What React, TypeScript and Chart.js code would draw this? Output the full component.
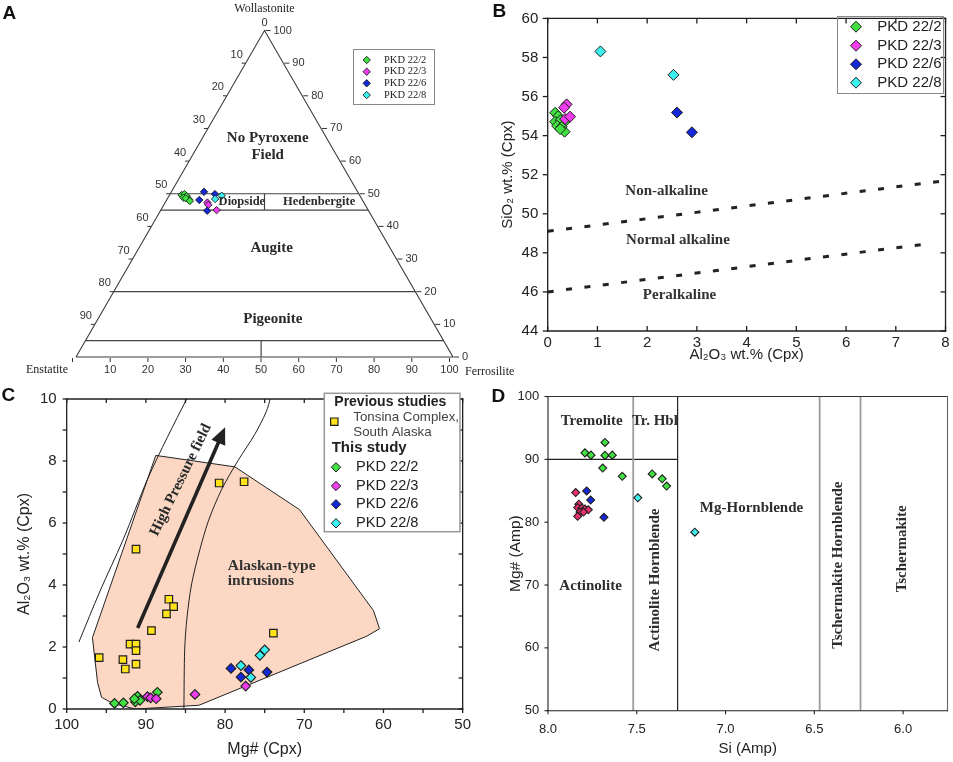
import React, { useEffect, useRef } from "react";
import { Chart, registerables } from "chart.js";

Chart.register(...registerables);

const SANS = '"Liberation Sans", Arial, Helvetica, sans-serif';
const SERIF = '"Liberation Serif", "Times New Roman", serif';
const NARROW = '"Liberation Sans Narrow", "Liberation Sans", Arial, sans-serif';
const INK = "#1e1e1e";

// ---------------- shared ----------------
const SAMPLE_NAMES = ["PKD 22/2", "PKD 22/3", "PKD 22/6", "PKD 22/8"];
const SAMPLE_COLORS = ["#3fe03f", "#ee3cee", "#1428d8", "#3cf0f0"];
const D_COLORS = ["#3fe03f", "#e8306e", "#1428d8", "#3cf0f0"];

// ---------------- Panel A: Wo-En-Fs ternary (Wo, Fs in %; En = 100 - Wo - Fs) ----------------
const A_PKD222_WO = [49.6, 49.9, 49.3, 48.8, 48.3, 48.6, 47.8];
const A_PKD222_FS = [3.2, 3.8, 4.7, 4.1, 5.8, 4.8, 6.3];
const A_PKD223_WO = [47.3, 46.6, 45.0];
const A_PKD223_FS = [11.2, 11.8, 14.8];
const A_PKD226_WO = [50.6, 49.9, 48.1, 44.8];
const A_PKD226_FS = [8.65, 11.9, 8.65, 12.4];
const A_PKD228_WO = [49.4, 48.4];
const A_PKD228_FS = [13.95, 12.7];
const A_FIELD_WO = [50, 45, 20, 5];
const A_PIGEONITE_SPLIT_FS = 49.1;
const A_TICKS = [10, 20, 30, 40, 50, 60, 70, 80, 90];

// ---------------- Panel B: SiO2 vs Al2O3 (Cpx) ----------------
const B_PKD222_AL = [0.15, 0.21, 0.15, 0.26, 0.19, 0.28, 0.34, 0.25, 0.38];
const B_PKD222_SI = [55.17, 55.0, 54.71, 54.79, 54.5, 54.45, 54.2, 54.34, 54.8];
const B_PKD223_AL = [0.38, 0.33, 0.35, 0.45];
const B_PKD223_SI = [55.6, 55.43, 54.85, 54.97];
const B_PKD226_AL = [2.6, 2.9];
const B_PKD226_SI = [55.18, 54.17];
const B_PKD228_AL = [1.06, 2.53];
const B_PKD228_SI = [58.31, 57.11];
const B_UPPER_X = [0, 8];
const B_UPPER_Y = [49.1, 51.7];
const B_LOWER_X = [0, 7.75];
const B_LOWER_Y = [46.0, 48.5];
const B_X_TICKS = [0, 1, 2, 3, 4, 5, 6, 7, 8];
const B_Y_TICKS = [44, 46, 48, 50, 52, 54, 56, 58, 60];

// ---------------- Panel C: Al2O3 vs Mg# (Cpx) ----------------
const C_TONSINA_MG = [80.75, 77.6, 91.25, 87.1, 86.5, 87.4, 89.3, 92.0, 91.25, 91.25, 92.9, 92.6, 91.25, 95.9, 73.9];
const C_TONSINA_AL = [7.29, 7.33, 5.16, 3.54, 3.3, 3.07, 2.53, 2.09, 2.09, 1.88, 1.59, 1.29, 1.45, 1.66, 2.45];
const C_PKD222_MG = [93.96, 92.84, 91.34, 91.05, 90.75, 88.55, 91.46];
const C_PKD222_AL = [0.18, 0.2, 0.23, 0.41, 0.28, 0.54, 0.33];
const C_PKD223_MG = [89.8, 89.4, 88.7, 83.8, 77.4];
const C_PKD223_AL = [0.4, 0.36, 0.33, 0.47, 0.74];
const C_PKD226_MG = [79.25, 78.0, 77.0, 74.7];
const C_PKD226_AL = [1.31, 1.03, 1.26, 1.19];
const C_PKD228_MG = [78.0, 76.75, 75.6, 75.0];
const C_PKD228_AL = [1.4, 1.02, 1.73, 1.91];
const C_FIELD_MG = [88.75, 78.75, 70.6, 61.25, 60.5, 62.1, 83.3, 91.3, 94.2, 95.6, 96.1, 96.75, 88.75];
const C_FIELD_AL = [8.18, 7.81, 6.43, 3.17, 2.59, 2.35, 0.12, 0.0, 0.18, 0.38, 0.85, 2.3, 8.18];
const C_HP_LEFT_MG = [98.46, 95.8, 92.9, 89.8, 87.3, 84.75];
const C_HP_LEFT_AL = [2.16, 3.8, 5.45, 7.41, 8.76, 10.05];
const C_HP_RIGHT_MG = [85.2, 85.1, 84.8, 84.25, 83.3, 82.1, 80.4, 78.3, 76.25, 74.8, 74.25];
const C_HP_RIGHT_AL = [0.0, 1.93, 2.97, 4.0, 5.03, 6.07, 7.1, 8.04, 8.86, 9.59, 10.05];
const C_ARROW_MG = [91.04, 80.0];
const C_ARROW_AL = [2.61, 9.09];
const C_X_TICKS = [50, 55, 60, 65, 70, 75, 80, 85, 90, 95, 100];
const C_Y_TICKS = [0, 1, 2, 3, 4, 5, 6, 7, 8, 9, 10];

// ---------------- Panel D: Mg# vs Si (Amp) ----------------
const D_PKD222_SI = [7.792, 7.758, 7.679, 7.679, 7.638, 7.692, 7.582, 7.413, 7.357, 7.332];
const D_PKD222_MG = [91.03, 90.67, 92.69, 90.63, 90.67, 88.61, 87.3, 87.67, 86.9, 85.75];
const D_PKD223_SI = [7.844, 7.826, 7.833, 7.81, 7.792, 7.773, 7.82, 7.8, 7.833];
const D_PKD223_MG = [84.72, 82.86, 82.33, 82.23, 82.08, 81.97, 81.61, 81.61, 80.93];
const D_PKD226_SI = [7.782, 7.76, 7.685];
const D_PKD226_MG = [84.97, 83.52, 80.77];
const D_PKD228_SI = [7.494, 7.173];
const D_PKD228_MG = [83.88, 78.4];
const D_BOUNDARY_SI = [7.52, 7.27, 6.47, 6.24];
const D_TREMOLITE_MG = 90;
const D_X_TICKS = [6.0, 6.5, 7.0, 7.5, 8.0];
const D_Y_TICKS = [50, 60, 70, 80, 90, 100];

// ---------------- helpers ----------------
type Pt = { x: number; y: number };
const zip = (xs: number[], ys: number[]): Pt[] => xs.map((v, i) => ({ x: v, y: ys[i] }));
const SQ3 = Math.sqrt(3) / 2;
const tern = (wo: number, fs: number): Pt => ({ x: fs + wo / 2, y: wo * SQ3 });

function seg(ctx: CanvasRenderingContext2D, x1: number, y1: number, x2: number, y2: number) {
  ctx.beginPath();
  ctx.moveTo(x1, y1);
  ctx.lineTo(x2, y2);
  ctx.stroke();
}

function label(
  ctx: CanvasRenderingContext2D,
  s: string,
  x: number,
  y: number,
  font: string,
  color = INK,
  align: CanvasTextAlign = "center",
  rot = 0
) {
  ctx.save();
  ctx.translate(x, y);
  if (rot) ctx.rotate((rot * Math.PI) / 180);
  ctx.font = font;
  ctx.fillStyle = color;
  ctx.textAlign = align;
  ctx.textBaseline = "middle";
  ctx.fillText(s, 0, 0);
  ctx.restore();
}

function diamond(ctx: CanvasRenderingContext2D, x: number, y: number, r: number, fill: string, lw = 1) {
  ctx.beginPath();
  ctx.moveTo(x, y - r);
  ctx.lineTo(x + r, y);
  ctx.lineTo(x, y + r);
  ctx.lineTo(x - r, y);
  ctx.closePath();
  ctx.fillStyle = fill;
  ctx.fill();
  ctx.strokeStyle = INK;
  ctx.lineWidth = lw;
  ctx.stroke();
}

function square(ctx: CanvasRenderingContext2D, x: number, y: number, h: number, fill: string, lw = 1.2) {
  ctx.beginPath();
  ctx.rect(x - h, y - h, 2 * h, 2 * h);
  ctx.fillStyle = fill;
  ctx.fill();
  ctx.strokeStyle = INK;
  ctx.lineWidth = lw;
  ctx.stroke();
}

function dataText(chart: any, s: string, xv: number, yv: number, font: string, color = "#2a2a2a", align: CanvasTextAlign = "center", rot = 0) {
  const px = chart.scales.x.getPixelForValue(xv);
  const py = chart.scales.y.getPixelForValue(yv);
  label(chart.ctx, s, px, py, font, color, align, rot);
}

function frame(
  chart: any,
  xt: number[],
  yt: number[],
  L: { b: number; t: number; l: number; r: number },
  lw: number,
  colors: { b?: string; t?: string; l?: string; r?: string } = {}
) {
  const { ctx, chartArea: a, scales } = chart;
  const sx = scales.x;
  const sy = scales.y;
  const c = { b: INK, t: INK, l: INK, r: INK, ...colors };
  ctx.save();
  ctx.lineWidth = lw;
  ctx.lineCap = "square";
  ctx.strokeStyle = c.t;
  seg(ctx, a.left, a.top, a.right, a.top);
  ctx.strokeStyle = c.r;
  seg(ctx, a.right, a.top, a.right, a.bottom);
  ctx.strokeStyle = c.b;
  seg(ctx, a.left, a.bottom, a.right, a.bottom);
  ctx.strokeStyle = c.l;
  seg(ctx, a.left, a.top, a.left, a.bottom);
  ctx.lineCap = "butt";
  ctx.lineWidth = Math.max(1, lw);
  for (const v of xt) {
    const p = sx.getPixelForValue(v);
    ctx.strokeStyle = c.b;
    if (L.b) seg(ctx, p, a.bottom, p, a.bottom + L.b);
    ctx.strokeStyle = c.t;
    if (L.t) seg(ctx, p, a.top, p, a.top - L.t);
  }
  for (const v of yt) {
    const p = sy.getPixelForValue(v);
    ctx.strokeStyle = c.l;
    if (L.l) seg(ctx, a.left, p, a.left - L.l, p);
    ctx.strokeStyle = c.r;
    if (L.r) seg(ctx, a.right, p, a.right + L.r, p);
  }
  ctx.restore();
}

const lineDs = (data: Pt[], color = INK, width = 1, extra: any = {}) => ({
  type: "line",
  data,
  borderColor: color,
  borderWidth: width,
  pointRadius: 0,
  pointHoverRadius: 0,
  showLine: true,
  fill: false,
  tension: 0,
  order: 20,
  ...extra,
});

const pointDs = (data: Pt[], color: string, style: string, radius: number, order: number, bw = 1) => ({
  type: "scatter",
  data,
  pointStyle: style,
  pointRadius: radius,
  pointHoverRadius: radius,
  backgroundColor: color,
  borderColor: INK,
  borderWidth: bw,
  showLine: false,
  order,
});

const baseOptions = (padding: any, scales: any) => ({
  animation: false,
  responsive: false,
  devicePixelRatio: 1,
  events: [],
  layout: { padding, autoPadding: false },
  plugins: { legend: { display: false }, tooltip: { enabled: false } },
  scales,
});

const hiddenGrid = { display: false, drawTicks: false };

// ---------------- Panel A ----------------
function buildA(): any {
  const series = [
    [A_PKD222_WO, A_PKD222_FS],
    [A_PKD223_WO, A_PKD223_FS],
    [A_PKD226_WO, A_PKD226_FS],
    [A_PKD228_WO, A_PKD228_FS],
  ];
  const datasets: any[] = series.map(([wo, fs], i) =>
    pointDs(wo.map((w, k) => tern(w, fs[k])), SAMPLE_COLORS[i], "rectRot", 3.7, 4 - i, 0.9)
  );
  const edge = "#3a3a3a";
  datasets.push(lineDs([tern(0, 0), tern(0, 100), tern(100, 0), tern(0, 0)], edge, 1.1));
  A_FIELD_WO.forEach((wo) => datasets.push(lineDs([tern(wo, 0), tern(wo, 100 - wo)], "#444", 1.2)));
  datasets.push(lineDs([tern(50, 25), tern(45, 27.5)], "#444", 1.2));
  datasets.push(lineDs([tern(5, A_PIGEONITE_SPLIT_FS - 2.5), tern(0, A_PIGEONITE_SPLIT_FS)], "#444", 1.2));

  const plugin = {
    id: "ternaryA",
    afterDatasetsDraw(chart: any) {
      const { ctx, scales } = chart;
      const P = (wo: number, fs: number) => {
        const t = tern(wo, fs);
        return [scales.x.getPixelForValue(t.x), scales.y.getPixelForValue(t.y)];
      };
      const tf = `11px ${SANS}`;
      const tc = "#333";
      ctx.save();
      ctx.strokeStyle = "#333";
      ctx.lineWidth = 1;
      // left edge (En)
      A_TICKS.forEach((v) => {
        const [px, py] = P(100 - v, 0);
        seg(ctx, px - 4, py, px, py);
        label(ctx, String(v), px - 9, py - 8.5, tf, tc);
      });
      const [ax, ay] = P(100, 0);
      label(ctx, "0", ax, ay - 8, tf, tc);
      // right edge (Wo)
      [0, ...A_TICKS, 100].forEach((v) => {
        const [px, py] = P(v, 100 - v);
        seg(ctx, px + 1, py, px + 6, py);
        label(ctx, String(v), px + 9, py, tf, tc, "left");
      });
      // bottom edge (Fs)
      [0, ...A_TICKS, 100].forEach((v) => {
        const [px0, py] = P(0, v);
        const px = px0 - 3.5;
        seg(ctx, px, py + 1, px, py + 5);
        if (v > 0) label(ctx, String(v), px, py + 13, tf, tc);
      });
      // end members
      const ef = `12px ${SERIF}`;
      label(ctx, "Wollastonite", ax, ay - 22, ef, "#222");
      const [lx, ly] = P(0, 0);
      label(ctx, "Enstatite", lx - 29, ly + 13, ef, "#222");
      const [rx, ry] = P(0, 100);
      label(ctx, "Ferrosilite", rx + 12, ry + 15, ef, "#222", "left");
      // field names
      const bf = `bold 15px ${SERIF}`;
      const sf = `bold 12.5px ${SERIF}`;
      const put = (s: string, X: number, Y: number, f: string) =>
        label(ctx, s, scales.x.getPixelForValue(X), scales.y.getPixelForValue(Y), f, "#2a2a2a");
      put("No Pyroxene", 50.85, 58.1, bf);
      put("Field", 50.85, 53.6, bf);
      put("Diopside", 44.0, 41.1, sf);
      put("Hedenbergite", 64.5, 41.1, sf);
      put("Augite", 51.9, 28.9, bf);
      put("Pigeonite", 52.2, 10.1, bf);
      // legend
      ctx.strokeStyle = "#888";
      ctx.lineWidth = 1;
      ctx.strokeRect(353.5, 49.5, 81, 55);
      [60, 71.7, 83.3, 95.1].forEach((yy, i) => {
        diamond(ctx, 366.7, yy, 3.7, SAMPLE_COLORS[i], 0.9);
        label(ctx, SAMPLE_NAMES[i], 384, yy, `10.5px ${SERIF}`, "#222", "left");
      });
      // panel letter
      label(ctx, "A", 2.5, 13.5, `bold 19px ${SANS}`, "#111", "left");
      ctx.restore();
    },
  };

  return {
    type: "scatter",
    data: { datasets },
    options: baseOptions(0, {
      x: { type: "linear", display: false, min: -76 / 3.77, max: -76 / 3.77 + 520 / 3.77 },
      y: { type: "linear", display: false, min: 357 / 3.77 - 380 / 3.77, max: 357 / 3.77 },
    }),
    plugins: [plugin],
  };
}

// ---------------- Panel B ----------------
function buildB(): any {
  const series = [
    [B_PKD222_AL, B_PKD222_SI],
    [B_PKD223_AL, B_PKD223_SI],
    [B_PKD226_AL, B_PKD226_SI],
    [B_PKD228_AL, B_PKD228_SI],
  ];
  const datasets: any[] = series.map(([xs, ys], i) => pointDs(zip(xs, ys), SAMPLE_COLORS[i], "rectRot", 5.5, 4 - i, 1));
  const dash = { borderDash: [6, 12.5], borderCapStyle: "butt" };
  datasets.push(lineDs(zip(B_UPPER_X, B_UPPER_Y), "#222", 3, dash));
  datasets.push(lineDs(zip(B_LOWER_X, B_LOWER_Y), "#222", 3, dash));

  const plugin = {
    id: "decoB",
    afterDatasetsDraw(chart: any) {
      const { ctx } = chart;
      frame(chart, B_X_TICKS, B_Y_TICKS, { b: -5, t: -5, l: 5, r: -5 }, 1.3);
      const f = `bold 15px ${SERIF}`;
      dataText(chart, "Non-alkaline", 2.39, 51.16, f, "#333");
      dataText(chart, "Normal alkaline", 2.62, 48.64, f, "#333");
      dataText(chart, "Peralkaline", 2.65, 45.85, f, "#333");
      ctx.save();
      ctx.strokeStyle = "#888";
      ctx.lineWidth = 1;
      ctx.strokeRect(367.5, 16.5, 106, 77);
      [26.7, 45.7, 64.3, 82.7].forEach((yy, i) => {
        diamond(ctx, 386, yy, 5.5, SAMPLE_COLORS[i], 1);
        label(ctx, SAMPLE_NAMES[i], 407.3, yy, `15px ${SANS}`, "#222", "left");
      });
      label(ctx, "B", 22.5, 12, `bold 19px ${SANS}`, "#111", "left");
      ctx.restore();
    },
  };

  return {
    type: "scatter",
    data: { datasets },
    options: baseOptions({ top: 10, right: 6.3, left: 0, bottom: 0 }, {
      x: {
        type: "linear",
        min: 0,
        max: 8,
        grid: hiddenGrid,
        border: { display: false },
        ticks: { stepSize: 1, font: { family: SANS, size: 15 }, color: "#222", padding: 3.3, maxRotation: 0, autoSkip: false },
        title: { display: true, text: "Al₂O₃ wt.% (Cpx)", font: { family: SANS, size: 15 }, color: "#222", padding: { top: 0, bottom: 16 } },
        afterFit: (s: any) => {
          s.height = 49;
        },
      },
      y: {
        type: "linear",
        min: 44,
        max: 60,
        grid: hiddenGrid,
        border: { display: false },
        ticks: { stepSize: 2, font: { family: SANS, size: 15 }, color: "#222", padding: 9.4 },
        title: { display: true, text: "SiO₂ wt.% (Cpx)", font: { family: SANS, size: 15 }, color: "#222", padding: { top: 29.3, bottom: 0 } },
        afterFit: (s: any) => {
          s.width = 77.7;
        },
      },
    }),
    plugins: [plugin],
  };
}

// ---------------- Panel C ----------------
function buildC(): any {
  const series = [
    [C_PKD222_MG, C_PKD222_AL],
    [C_PKD223_MG, C_PKD223_AL],
    [C_PKD226_MG, C_PKD226_AL],
    [C_PKD228_MG, C_PKD228_AL],
  ];
  const datasets: any[] = series.map(([xs, ys], i) => pointDs(zip(xs, ys), SAMPLE_COLORS[i], "rectRot", 4.8, 4 - i, 1.1));
  datasets.push(pointDs(zip(C_TONSINA_MG, C_TONSINA_AL), "#ffe21a", "rect", 5.3, 6, 1.2));
  datasets.push(
    lineDs(zip(C_FIELD_MG, C_FIELD_AL), "#222", 1, { fill: "shape", backgroundColor: "#fcd8c4", order: 40 })
  );
  datasets.push(lineDs(zip(C_HP_LEFT_MG, C_HP_LEFT_AL), "#222", 1, { tension: 0.3, order: 30 }));
  datasets.push(lineDs(zip(C_HP_RIGHT_MG, C_HP_RIGHT_AL), "#222", 1, { tension: 0.3, order: 30 }));

  const plugin = {
    id: "decoC",
    afterDatasetsDraw(chart: any) {
      const { ctx, scales } = chart;
      frame(chart, C_X_TICKS, C_Y_TICKS, { b: 4, t: -4, l: 4, r: -4 }, 1.3);
      // arrow
      const x0 = scales.x.getPixelForValue(C_ARROW_MG[0]);
      const y0 = scales.y.getPixelForValue(C_ARROW_AL[0]);
      const x1 = scales.x.getPixelForValue(C_ARROW_MG[1]);
      const y1 = scales.y.getPixelForValue(C_ARROW_AL[1]);
      const ang = Math.atan2(y1 - y0, x1 - x0);
      const hl = 17;
      const hw = 7.5;
      const bx = x1 - hl * Math.cos(ang);
      const by = y1 - hl * Math.sin(ang);
      ctx.save();
      ctx.strokeStyle = "#222";
      ctx.lineWidth = 3.6;
      seg(ctx, x0, y0, bx + 2 * Math.cos(ang), by + 2 * Math.sin(ang));
      ctx.beginPath();
      ctx.moveTo(x1, y1);
      ctx.lineTo(bx - hw * Math.sin(ang), by + hw * Math.cos(ang));
      ctx.lineTo(bx + hw * Math.sin(ang), by - hw * Math.cos(ang));
      ctx.closePath();
      ctx.fillStyle = "#222";
      ctx.fill();
      ctx.restore();
      dataText(chart, "High Pressure field", 85.6, 7.39, `bold 15px ${SERIF}`, "#2a2a2a", "center", -64);
      dataText(chart, "Alaskan-type", 79.67, 4.62, `bold 15.5px ${SERIF}`, "#333", "left");
      dataText(chart, "intrusions", 79.67, 4.13, `bold 15.5px ${SERIF}`, "#333", "left");
      // legend
      ctx.save();
      ctx.fillStyle = "#fff";
      ctx.fillRect(324.3, 13.3, 135.7, 138.4);
      ctx.strokeStyle = "#999";
      ctx.lineWidth = 1.5;
      ctx.strokeRect(324.3, 13.3, 135.7, 138.4);
      label(ctx, "Previous studies", 334.3, 21.7, `bold 14px ${SANS}`, "#222", "left");
      square(ctx, 334.3, 41.7, 3.7, "#ffe21a");
      label(ctx, "Tonsina Complex,", 353.3, 37.7, `13.3px ${SANS}`, "#444", "left");
      label(ctx, "South Alaska", 353.3, 52.7, `13.3px ${SANS}`, "#444", "left");
      label(ctx, "This study", 331.7, 68.3, `bold 15px ${SANS}`, "#222", "left");
      [87.3, 106, 124.3, 143.3].forEach((yy, i) => {
        diamond(ctx, 336, yy, 4.7, SAMPLE_COLORS[i], 1);
        label(ctx, SAMPLE_NAMES[i], 356, yy, `14.6px ${SANS}`, "#222", "left");
      });
      label(ctx, "C", 1.5, 16, `bold 19px ${SANS}`, "#111", "left");
      ctx.restore();
    },
  };

  return {
    type: "scatter",
    data: { datasets },
    options: baseOptions({ top: 6.7, right: 11.3, left: 0, bottom: 0 }, {
      x: {
        type: "linear",
        min: 50,
        max: 100,
        reverse: true,
        grid: hiddenGrid,
        border: { display: false },
        ticks: { stepSize: 10, font: { family: SANS, size: 15 }, color: "#222", padding: 7, maxRotation: 0, autoSkip: false },
        title: { display: true, text: "Mg# (Cpx)", font: { family: SANS, size: 16 }, color: "#222", padding: { top: 0, bottom: 2.4 } },
        afterFit: (s: any) => {
          s.height = 53;
        },
      },
      y: {
        type: "linear",
        min: 0,
        max: 10,
        grid: hiddenGrid,
        border: { display: false },
        ticks: { stepSize: 2, font: { family: SANS, size: 15 }, color: "#222", padding: 10 },
        title: { display: true, text: "Al₂O₃ wt.% (Cpx)", font: { family: SANS, size: 16 }, color: "#222", padding: { top: 15.4, bottom: 0 } },
        afterFit: (s: any) => {
          s.width = 66.7;
        },
      },
    }),
    plugins: [plugin],
  };
}

// ---------------- Panel D ----------------
function buildD(): any {
  const series = [
    [D_PKD222_SI, D_PKD222_MG],
    [D_PKD223_SI, D_PKD223_MG],
    [D_PKD226_SI, D_PKD226_MG],
    [D_PKD228_SI, D_PKD228_MG],
  ];
  const datasets: any[] = series.map(([xs, ys], i) => pointDs(zip(xs, ys), D_COLORS[i], "rectRot", 4, 4 - i, 1.1));
  D_BOUNDARY_SI.forEach((si, i) => {
    const dark = i === 1;
    datasets.push(lineDs([{ x: si, y: 50 }, { x: si, y: 100 }], dark ? "#222" : "#9c9c9c", dark ? 1.2 : 1.8));
  });
  datasets.push(lineDs([{ x: 8.0, y: D_TREMOLITE_MG }, { x: D_BOUNDARY_SI[1], y: D_TREMOLITE_MG }], "#222", 1.1));

  const plugin = {
    id: "decoD",
    afterDatasetsDraw(chart: any) {
      frame(chart, D_X_TICKS, D_Y_TICKS, { b: 3.5, t: 0, l: 3.5, r: 0 }, 1.1, { t: "#333", r: "#666" });
      const f = `bold 15px ${SERIF}`;
      const c = "#2e2e2e";
      dataText(chart, "Tremolite", 7.754, 96.07, f, c);
      dataText(chart, "Tr. Hbl", 7.398, 96.07, f, c);
      dataText(chart, "Mg-Hornblende", 6.854, 82.24, f, c);
      dataText(chart, "Actinolite", 7.76, 69.8, f, c);
      dataText(chart, "Actinolite Hornblende", 7.398, 70.8, f, c, "center", -90);
      dataText(chart, "Tschermakite Hornblende", 6.366, 73.16, f, c, "center", -90);
      dataText(chart, "Tschermakite", 6.004, 75.75, f, c, "center", -90);
      label(chart.ctx, "D", 21.5, 16.7, `bold 19px ${SANS}`, "#111", "left");
    },
  };

  return {
    type: "scatter",
    data: { datasets },
    options: baseOptions({ top: 9, right: 5.5, left: 0, bottom: 0 }, {
      x: {
        type: "linear",
        min: 5.75,
        max: 8.0,
        reverse: true,
        grid: hiddenGrid,
        border: { display: false },
        afterBuildTicks: (s: any) => {
          s.ticks = D_X_TICKS.map((v) => ({ value: v }));
        },
        ticks: {
          font: { family: NARROW, size: 13 },
          color: "#222",
          padding: 10.5,
          maxRotation: 0,
          autoSkip: false,
          callback: (v: any) => Number(v).toFixed(1),
        },
        title: { display: true, text: "Si (Amp)", font: { family: SANS, size: 15 }, color: "#222", padding: { top: 0, bottom: 4 } },
        afterFit: (s: any) => {
          s.height = 51.3;
        },
      },
      y: {
        type: "linear",
        min: 50,
        max: 100,
        grid: hiddenGrid,
        border: { display: false },
        ticks: { stepSize: 10, font: { family: NARROW, size: 13 }, color: "#222", padding: 8.7 },
        title: { display: true, text: "Mg# (Amp)", font: { family: SANS, size: 15.5 }, color: "#222", padding: { top: 36, bottom: 0 } },
        afterFit: (s: any) => {
          s.width = 78;
        },
      },
    }),
    plugins: [plugin],
  };
}

// ---------------- React ----------------
function ChartCanvas(props: { left: number; top: number; width: number; height: number; build: () => any }) {
  const { left, top, width, height, build } = props;
  const ref = useRef<HTMLCanvasElement | null>(null);
  useEffect(() => {
    const c = ref.current;
    if (!c) return;
    const chart = new Chart(c, build());
    return () => chart.destroy();
  }, [build]);
  return (
    <canvas
      ref={ref}
      width={width}
      height={height}
      style={{ position: "absolute", left, top, width, height }}
    />
  );
}

export default function App() {
  return (
    <div
      style={{
        position: "fixed",
        left: 0,
        top: 0,
        width: 953,
        height: 762,
        background: "#ffffff",
        overflow: "hidden",
      }}
    >
      <ChartCanvas left={0} top={0} width={520} height={380} build={buildA} />
      <ChartCanvas left={470} top={0} width={483} height={380} build={buildB} />
      <ChartCanvas left={0} top={380} width={478} height={382} build={buildC} />
      <ChartCanvas left={470} top={380} width={483} height={382} build={buildD} />
    </div>
  );
}
